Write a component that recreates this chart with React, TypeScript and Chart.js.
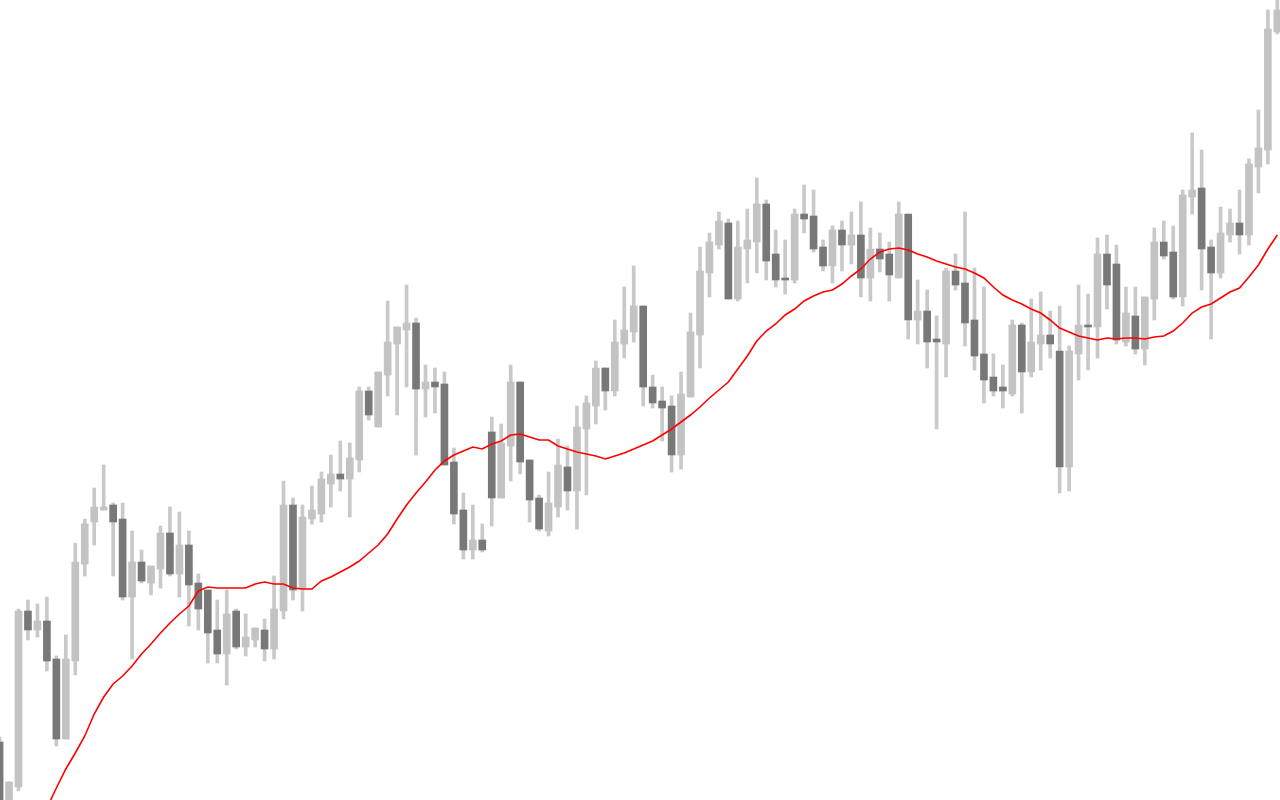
import { useEffect, useRef } from "react";
import { Chart, registerables } from "chart.js";

Chart.register(...registerables);

// Price levels (arbitrary points, 0 = bottom edge, 800 = top edge)
const opens = [
  58, -5, 13, 189, 170, 179, 141, 61, 139, 236,
  278, 290, 295, 281, 203, 238, 217, 231, 267, 226,
  255, 217, 210, 170, 146, 189, 153, 160, 170, 151,
  189, 295, 211, 281, 286, 316, 326, 321, 340, 409,
  373, 425, 456, 470, 477, 411, 418, 416, 338, 290,
  250, 260, 368, 302, 354, 418, 340, 302, 269, 293,
  333, 309, 371, 394, 432, 409, 456, 468, 494, 413,
  399, 394, 345, 403, 465, 527, 555, 577, 501, 551,
  558, 596, 546, 522, 520, 586, 584, 553, 534, 570,
  555, 565, 522, 551, 546, 522, 586, 480, 489, 461,
  456, 529, 517, 480, 446, 423, 413, 406, 475, 428,
  456, 465, 449, 333, 446, 475, 473, 546, 536, 458,
  484, 451, 501, 558, 548, 503, 603, 612, 553, 527,
  565, 577, 565, 633, 650, 768,
];

const closes = [
  -10, 18, 189, 170, 179, 139, 61, 141, 238, 276,
  293, 293, 278, 203, 238, 219, 234, 267, 226, 255,
  215, 191, 167, 146, 186, 153, 163, 172, 151, 191,
  295, 210, 283, 290, 321, 326, 321, 342, 409, 385,
  428, 458, 473, 477, 411, 418, 413, 335, 286, 250,
  260, 250, 302, 357, 418, 338, 300, 271, 297, 335,
  309, 373, 397, 432, 409, 458, 470, 494, 413, 397,
  392, 345, 406, 468, 529, 558, 579, 501, 553, 560,
  596, 539, 520, 520, 586, 581, 551, 534, 570, 555,
  565, 522, 551, 541, 525, 586, 480, 489, 458, 458,
  529, 515, 477, 444, 420, 409, 409, 475, 428, 458,
  465, 456, 333, 449, 475, 473, 546, 515, 460, 487,
  451, 503, 558, 544, 503, 605, 610, 551, 527, 567,
  577, 565, 636, 652, 771, 790,
];

const highs = [
  63, 18, 191, 200, 196, 203, 144, 165, 257, 281,
  312, 335, 297, 297, 269, 250, 234, 274, 293, 288,
  269, 226, 210, 200, 210, 191, 186, 172, 181, 224,
  319, 302, 295, 314, 328, 345, 359, 357, 413, 413,
  428, 499, 473, 515, 482, 435, 432, 428, 352, 307,
  295, 276, 383, 376, 435, 418, 340, 305, 328, 361,
  354, 394, 404, 439, 432, 480, 513, 534, 494, 425,
  413, 404, 428, 487, 553, 567, 588, 581, 579, 591,
  622, 600, 570, 560, 591, 615, 610, 560, 574, 579,
  588, 598, 572, 567, 558, 598, 586, 520, 510, 484,
  532, 546, 588, 532, 513, 446, 435, 480, 477, 501,
  508, 489, 494, 454, 515, 506, 562, 565, 555, 513,
  513, 503, 572, 579, 574, 610, 667, 650, 560, 593,
  591, 610, 641, 690, 790, 805,
];

const lows = [
  -18, -12, 9, 160, 163, 129, 54, 61, 125, 224,
  255, 290, 224, 200, 141, 217, 205, 212, 224, 203,
  174, 170, 137, 137, 115, 151, 144, 153, 139, 141,
  181, 200, 189, 276, 278, 293, 309, 283, 328, 380,
  373, 404, 385, 413, 345, 383, 387, 335, 276, 241,
  241, 248, 274, 302, 319, 326, 278, 269, 264, 283,
  290, 271, 305, 376, 390, 404, 442, 458, 394, 392,
  359, 328, 331, 403, 432, 503, 551, 501, 499, 517,
  527, 520, 513, 506, 517, 567, 548, 529, 517, 529,
  536, 503, 499, 528, 499, 522, 461, 456, 432, 371,
  423, 510, 454, 430, 397, 404, 392, 404, 387, 423,
  430, 442, 307, 309, 420, 430, 442, 491, 456, 454,
  446, 435, 480, 541, 501, 494, 586, 510, 461, 522,
  558, 546, 555, 607, 636, 766,
];

// Moving average (red line)
const movingAverage = [
  -102, -82, -62, -43, -25, -8, 12, 31, 47, 64,
  86, 103, 116, 124, 134, 146, 156, 167, 177, 186,
  194, 209, 213, 212, 212, 212, 212, 216, 218, 216,
  216, 212, 211, 211, 219, 223, 228, 233, 239, 247,
  255, 266, 281, 295, 307, 318, 330, 339, 345, 349,
  353, 351, 356, 359, 365, 366, 363, 360, 360, 354,
  351, 348, 346, 344, 341, 344, 347, 351, 355, 359,
  365, 371, 378, 385, 393, 402, 410, 418, 431, 444,
  459, 469, 476, 485, 491, 499, 504, 508, 510, 516,
  524, 531, 541, 548, 551, 552, 550, 546, 543, 539,
  536, 533, 531, 527, 522, 513, 505, 500, 496, 491,
  487, 480, 472, 468, 464, 462, 460, 462, 461, 462,
  462, 461, 463, 464, 469, 477, 487, 493, 496, 502,
  508, 512, 523, 535, 551, 565,
];

const UP_COLOR = "#c3c3c3";
const DOWN_COLOR = "#787878";
const WICK_COLOR = "#c9c9c9";
const MA_COLOR = "#ff0000";

export default function App() {
  const ref = useRef<HTMLCanvasElement>(null);

  useEffect(() => {
    if (!ref.current) return;
    const idx = opens.map((_, i) => i);
    const chart = new Chart(ref.current, {
      type: "bar",
      data: {
        datasets: [
          {
            type: "line",
            data: idx.map((i) => ({ x: i, y: movingAverage[i] })),
            borderColor: MA_COLOR,
            borderWidth: 1.6,
            pointRadius: 0,
            tension: 0,
            fill: false,
            order: 0,
          } as any,
          {
            type: "bar",
            data: idx.map((i) => ({ x: i, y: [opens[i], closes[i]] })),
            backgroundColor: idx.map((i) =>
              closes[i] >= opens[i] ? UP_COLOR : DOWN_COLOR
            ),
            barThickness: 7,
            grouped: false,
            borderWidth: 0,
            order: 1,
          } as any,
          {
            type: "bar",
            data: idx.map((i) => ({ x: i, y: [lows[i], highs[i]] })),
            backgroundColor: WICK_COLOR,
            barThickness: 3,
            grouped: false,
            borderWidth: 0,
            order: 2,
          } as any,
        ],
      },
      options: {
        responsive: false,
        animation: false,
        events: [],
        layout: { padding: 0 },
        scales: {
          x: {
            type: "linear",
            display: false,
            offset: false,
            min: 0.0454,
            max: 135.28,
          },
          y: {
            type: "linear",
            display: false,
            min: 0,
            max: 800,
          },
        },
        plugins: {
          legend: { display: false },
          tooltip: { enabled: false },
        },
      } as any,
    });
    return () => chart.destroy();
  }, []);

  return (
    <div
      style={{
        position: "fixed",
        left: 0,
        top: 0,
        width: 1280,
        height: 800,
        background: "#ffffff",
      }}
    >
      <canvas ref={ref} width={1280} height={800} style={{ display: "block" }} />
    </div>
  );
}
